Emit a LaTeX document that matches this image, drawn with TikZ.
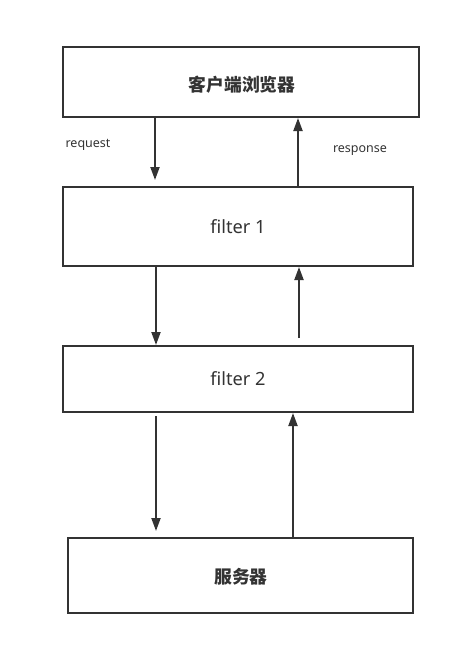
\documentclass[tikz,border=0pt]{standalone}
\usepackage{fontspec}
\setmainfont{Noto Sans}
\newfontfamily\cjk{Noto Sans CJK SC}
\usetikzlibrary{arrows.meta}
\definecolor{ink}{HTML}{333333}

\begin{document}
\begin{tikzpicture}[x=1pt,y=-1pt,line width=2pt,draw=ink,text=ink]
	\tikzstyle{box}=[draw=ink,rectangle,inner sep=0pt]
	\tikzstyle{flow}=[draw=ink,-{Triangle[length=13pt,width=9pt]}]
	\tikzstyle{label}=[font=\fontsize{12.5}{14}\selectfont]
	\useasboundingbox (0,0) rectangle (451,645);
	
	% Draw the boxes
	\node[box,minimum width=356pt,minimum height=70pt] (client) at (241,82) {};
	\node[font=\cjk\bfseries\fontsize{17.8}{20}\selectfont] (client-t) at (242,85) {客户端浏览器};
	\node[box,minimum width=350pt,minimum height=79pt] (filter1) at (238,226.5) {};
	\node[font=\fontsize{18.2}{20}\selectfont] (filter1-t) at (238,227) {filter 1};
	\node[box,minimum width=350pt,minimum height=66pt] (filter2) at (238,379) {};
	\node[font=\fontsize{18.2}{20}\selectfont] (filter2-t) at (238,379) {filter 2};
	\node[box,minimum width=345pt,minimum height=75pt] (server) at (240.5,575.5) {};
	\node[font=\cjk\bfseries\fontsize{17.8}{20}\selectfont] (server-t) at (241,577) {服务器};
	
	% Requests go down
	\draw[flow,shorten >=6pt] (client.south -| 155,0) -- (filter1.north -| 155,0);
	\draw[flow] (filter1.south -| 156,0) -- (filter2.north -| 156,0);
	\draw[flow,shorten <=3pt,shorten >=6pt] (filter2.south -| 156,0) -- (server.north -| 156,0);
	
	% Responses go up
	\draw[flow] (filter1.north -| 298,0) -- (client.south -| 298,0);
	\draw[flow,shorten <=7pt] (filter2.north -| 299,0) -- (filter1.south -| 299,0);
	\draw[flow] (server.north -| 293,0) -- (filter2.south -| 293,0);
	
	% Annotate the arrows
	\node[label] (req) at (88,145) {request};
	\node[label] (resp) at (360,151) {response};
\end{tikzpicture}
\end{document}
